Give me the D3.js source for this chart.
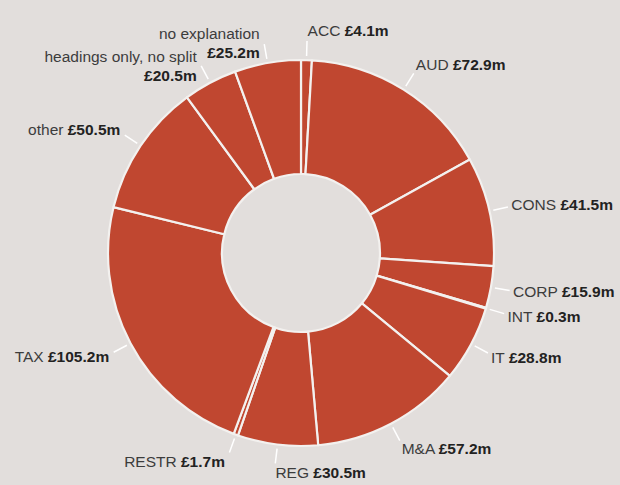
<!DOCTYPE html>
<html>
<head>
<meta charset="utf-8">
<script src="https://cdn.jsdelivr.net/npm/d3@7"></script>
<style>
  html, body { margin: 0; padding: 0; background: #e2dedc; }
  svg { display: block; }
  text { font-family: "Liberation Sans", Arial, sans-serif; font-size: 15.5px; }
  .name { fill: #3c3c3c; }
  .val { fill: #222; font-weight: bold; }
</style>
</head>
<body>
<div id="chart"></div>
<script>
// spending by category, clockwise from 12 o'clock
const categories = ["ACC", "AUD", "CONS", "CORP", "INT", "IT", "M&A", "REG", "RESTR", "TAX",
                    "other", "headings only, no split", "no explanation"];
const values = [4.1, 72.9, 41.5, 15.9, 0.3, 28.8, 57.2, 30.5, 1.7, 105.2, 50.5, 20.5, 25.2];

const width = 620, height = 485;
const cx = 301, cy = 253;
const outerR = 193, innerR = 79;

const svg = d3.select("#chart").append("svg")
    .attr("width", width)
    .attr("height", height);

const g = svg.append("g").attr("transform", `translate(${cx},${cy})`);

const data = categories.map((c, i) => ({ name: c, value: values[i] }));
const pie = d3.pie().value(d => d.value).sort(null);
const arcs = pie(data);

const arc = d3.arc().innerRadius(innerR).outerRadius(outerR);

g.selectAll("path.slice")
    .data(arcs)
    .enter()
    .append("path")
    .attr("class", "slice")
    .attr("d", arc)
    .attr("fill", "#c04730")
    .attr("stroke", "#f3f1ef")
    .attr("stroke-width", 2.2)
    .attr("stroke-linejoin", "round");

const fmt = d3.format(".1f");
const pt = (a, r) => [r * Math.sin(a), -r * Math.cos(a)];

// leader lines
const leaderIn = 197, leaderOut = 212;
g.selectAll("line.leader")
    .data(arcs)
    .enter()
    .append("line")
    .attr("class", "leader")
    .each(function (d) {
        const a = (d.startAngle + d.endAngle) / 2;
        const p0 = pt(a, leaderIn), p1 = pt(a, leaderOut);
        d3.select(this)
            .attr("x1", p0[0]).attr("y1", p0[1])
            .attr("x2", p1[0]).attr("y2", p1[1]);
    })
    .attr("stroke", "#fff")
    .attr("stroke-width", 1.5);

// labels
g.selectAll("text.label")
    .data(arcs)
    .enter()
    .append("text")
    .attr("class", "label")
    .each(function (d) {
        const a = (d.startAngle + d.endAngle) / 2;
        const deg = a * 180 / Math.PI;
        const end = pt(a, leaderOut);
        const anchor = deg < 190 ? "start" : "end";
        const x = anchor === "start" ? end[0] + 3 * Math.sin(a) + 0.5 : end[0] - 4.5;
        const y = end[1] + 5 - 10 * Math.cos(a);
        const text = d3.select(this).attr("text-anchor", anchor);
        const valueStr = "£" + fmt(d.data.value) + "m";
        if (d.data.name.length > 10) {
            text.append("tspan").attr("class", "name")
                .attr("x", x).attr("y", y).text(d.data.name);
            text.append("tspan").attr("class", "val")
                .attr("x", x).attr("y", y + 19).text(valueStr);
        } else {
            text.attr("x", x).attr("y", y);
            text.append("tspan").attr("class", "name").text(d.data.name + " ");
            text.append("tspan").attr("class", "val").text(valueStr);
        }
    });
</script>
</body>
</html>
